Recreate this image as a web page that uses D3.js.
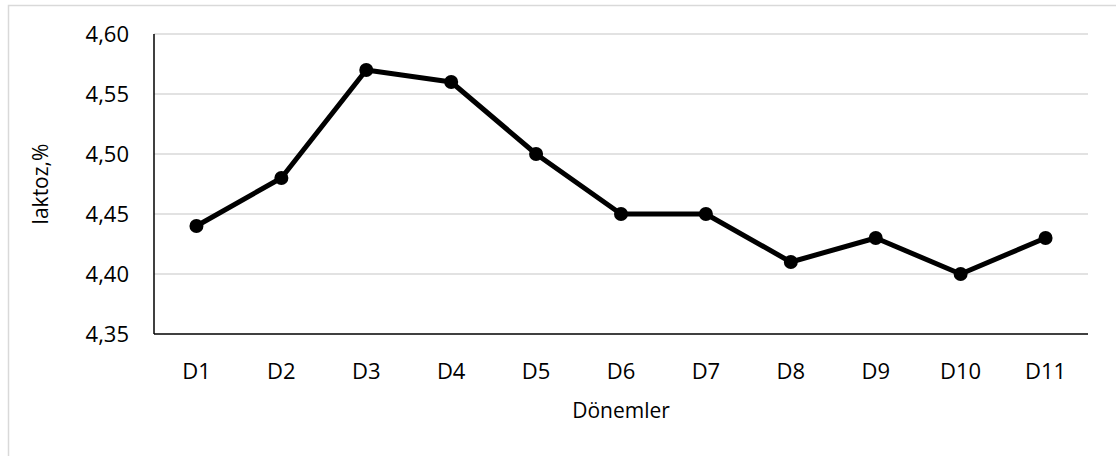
<!DOCTYPE html>
<html><head><meta charset="utf-8">
<script src="https://cdn.jsdelivr.net/npm/d3@7"></script>
<style>body{margin:0;background:#fff}svg{display:block}text{font-family:"Open Sans",sans-serif;fill:#000}</style>
</head><body><svg id="c" width="1116" height="456"></svg>
<script>
const categories = ["D1","D2","D3","D4","D5","D6","D7","D8","D9","D10","D11"];
const values = [4.44,4.48,4.57,4.56,4.50,4.45,4.45,4.41,4.43,4.40,4.43];
const yTicks = [4.35,4.40,4.45,4.50,4.55,4.60];
const yTitle = "laktoz,%";
const xTitle = "Dönemler";

const svg = d3.select("#c");
const m = {l:154, r:1088, t:34, b:334};
svg.append("rect").attr("x",8.5).attr("y",5.5).attr("width",1120).attr("height",460)
  .attr("fill","none").attr("stroke","#d9d9d9").attr("stroke-width",1.5);

const x = d3.scaleBand().domain(categories).range([m.l,m.r]);
const y = d3.scaleLinear().domain([4.35,4.60]).range([m.b,m.t]);

svg.append("g").selectAll("line").data(yTicks.slice(1)).join("line")
  .attr("x1",m.l).attr("x2",m.r).attr("y1",d=>y(d)).attr("y2",d=>y(d))
  .attr("stroke","#d9d9d9").attr("stroke-width",1.5);

const fmt = d=>d3.format(".2f")(d).replace(".",",");
svg.append("g").selectAll("text").data(yTicks).join("text")
  .attr("x",m.l-25).attr("y",d=>y(d)).attr("dy","0.36em").attr("text-anchor","end")
  .attr("font-size",22).text(fmt);

svg.append("line").attr("x1",m.l).attr("x2",m.l).attr("y1",m.t).attr("y2",m.b).attr("stroke","#000").attr("stroke-width",1.5);
svg.append("line").attr("x1",m.l).attr("x2",m.r).attr("y1",m.b).attr("y2",m.b).attr("stroke","#000").attr("stroke-width",1.5);

svg.append("g").selectAll("text").data(categories).join("text")
  .attr("x",d=>x(d)+x.bandwidth()/2).attr("y",m.b+37).attr("dy","0.36em").attr("text-anchor","middle")
  .attr("font-size",22).text(d=>d);

const line = d3.line().x((d,i)=>x(categories[i])+x.bandwidth()/2).y(d=>y(d));
svg.append("path").datum(values).attr("d",line).attr("fill","none").attr("stroke","#000")
  .attr("stroke-width",5).attr("stroke-linejoin","round");
svg.append("g").selectAll("circle").data(values).join("circle")
  .attr("cx",(d,i)=>x(categories[i])+x.bandwidth()/2).attr("cy",d=>y(d)).attr("r",7).attr("fill","#000");

svg.append("text").attr("transform",`translate(40,${(m.t+m.b)/2}) rotate(-90)`)
  .attr("text-anchor","middle").attr("dy","0.36em").attr("font-size",21).text(yTitle);
svg.append("text").attr("x",(m.l+m.r)/2).attr("y",410).attr("dy","0.36em").attr("text-anchor","middle")
  .attr("font-size",21).text(xTitle);
</script></body></html>
